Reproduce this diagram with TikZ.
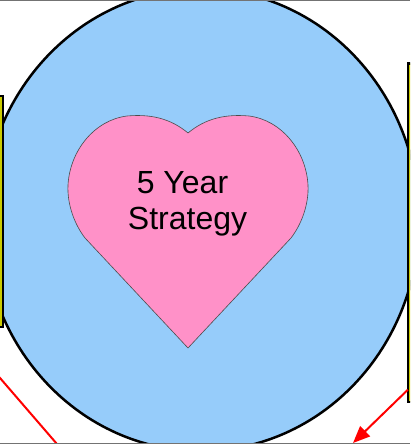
\documentclass[tikz,border=0pt]{standalone}
\usepackage{fontspec}
\setmainfont{Liberation Sans}
\usetikzlibrary{arrows.meta,shapes.geometric}
\definecolor{skyfill}{RGB}{150,204,250}
\definecolor{heartfill}{RGB}{255,145,200}
\definecolor{boxfill}{RGB}{204,204,0}
\tikzset{
  outer/.style={ellipse, draw=black, line width=2.5pt, fill=skyfill,
    minimum width=436pt, minimum height=462pt, inner sep=0pt, outer sep=0pt},
  sidebox/.style={draw=black, line width=2pt, fill=boxfill, inner sep=0pt, outer sep=0pt},
  link/.style={draw=red, line width=2pt},
  frameline/.style={draw=black!55, line width=1pt},
  heartshape/.style={draw=black!70, line width=0.6pt, fill=heartfill},
  labeltext/.style={font=\fontsize{32}{36}\selectfont, align=center, inner sep=0pt}
}
\begin{document}
\begin{tikzpicture}[x=1pt,y=-1pt]
\useasboundingbox (0,0) rectangle (410,444);
\clip (0,0) rectangle (410,444);
% big circle
\node[outer] (circle) at (201,220) {};
\draw[black, line width=1.5pt] (134.5,0.75) -- (267.5,0.75);
% side boxes
\node[sidebox, minimum width=40pt, minimum height=231pt, anchor=north east] (leftbox) at (3,96) {};
\node[sidebox, minimum width=40pt, minimum height=338pt, anchor=north west] (rightbox) at (407.8,63.5) {};
% heart
\path[heartshape] (188,133) .. controls (170,118) and (150,114) .. (127,116)
  .. controls (95,120) and (70,150) .. (68,185)
  .. controls (67,205) and (75,225) .. (85,238)
  -- (188,348) -- (291,238)
  .. controls (301,225) and (309,205) .. (308,185)
  .. controls (306,150) and (281,120) .. (249,116)
  .. controls (226,114) and (206,118) .. (188,133) -- cycle;
\node[labeltext, anchor=base] (label) at (187.5,229.5) {5 Year\hspace*{10pt}\\Strategy};
% red connectors
\coordinate (lstart) at (-10,366.4);
\coordinate (lend) at (70,459.1);
\draw[link] (lstart) -- (lend);
\coordinate (rend) at (353,443);
\draw[link, -{Triangle[length=17pt,width=14pt]}] ([yshift=11.7pt]rightbox.south west) -- (rend);
% frame lines
\draw[frameline] (0,0.5) -- (410,0.5);
\draw[frameline] (0,443.5) -- (410,443.5);
\end{tikzpicture}
\end{document}
